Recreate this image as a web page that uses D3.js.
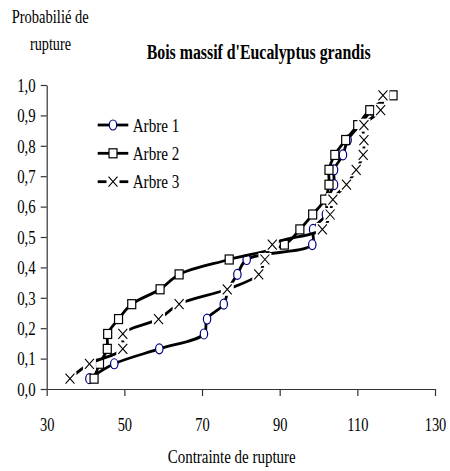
<!DOCTYPE html>
<html><head><meta charset="utf-8">
<script src="https://cdn.jsdelivr.net/npm/d3@7"></script>
<style>body{margin:0;background:#fff}svg{display:block}
svg text{font-family:"Liberation Serif","Times New Roman","DejaVu Serif",serif;}</style>
</head><body>
<script>
const xTicks = [30, 50, 70, 90, 110, 130];
const yTicks = [0, 0.1, 0.2, 0.3, 0.4, 0.5, 0.6, 0.7, 0.8, 0.9, 1.0];
const seriesNames = ["Arbre 1", "Arbre 2", "Arbre 3"];
const probs = [0.034, 0.083, 0.132, 0.181, 0.230, 0.279, 0.328, 0.377, 0.426, 0.475, 0.525, 0.574, 0.623, 0.672, 0.721, 0.770, 0.819, 0.868, 0.917, 0.966];
const arbre1 = [41.0, 47.4, 59.0, 70.5, 71.3, 75.6, 76.8, 79.1, 81.5, 98.4, 98.6, 101.9, 102.2, 104.0, 104.0, 106.3, 107.5, 110.6, 113.6];
const arbre2 = [42.2, 43.6, 45.6, 45.7, 48.5, 51.9, 59.2, 64.1, 77.0, 91.2, 95.2, 98.5, 101.6, 102.7, 102.7, 104.2, 107.0, 110.1, 113.2, 119.2];
const arbre3 = [36.0, 41.0, 49.6, 49.6, 58.8, 64.1, 76.5, 84.6, 86.2, 88.1, 101.0, 103.0, 103.7, 107.2, 109.7, 111.5, 111.7, 111.7, 116.0, 116.6];

const W = 450, H = 471;
const FS = 19, SQ = 0.78;
const svg = d3.select("body").append("svg").attr("width", W).attr("height", H);

const x = d3.scaleLinear().domain([30, 130]).range([46.7, 435]);
const y = d3.scaleLinear().domain([0, 1]).range([389, 85]);

function squeeze(sel, f) {
  sel.each(function () {
    const L = this.getComputedTextLength();
    d3.select(this).attr("textLength", L * f).attr("lengthAdjust", "spacingAndGlyphs");
  });
}
function txt(s, xx, yy, opts = {}) {
  const t = svg.append("text").attr("x", xx).attr("y", yy)
    .attr("font-size", opts.fs || FS)
    .attr("font-weight", opts.bold ? "bold" : "normal")
    .attr("text-anchor", opts.anchor || "start").attr("fill", "#000").text(s);
  if (opts.width) t.attr("textLength", opts.width).attr("lengthAdjust", "spacingAndGlyphs");
  else squeeze(t, SQ);
  return t;
}

// Axes
const fmt = d => d3.format(".1f")(d).replace(".", ",");
const yAxis = svg.append("g").attr("transform", `translate(${x(30)},0)`)
  .call(d3.axisLeft(y).tickValues(yTicks).tickSize(6).tickSizeOuter(0).tickPadding(5).tickFormat(fmt));
const xAxis = svg.append("g").attr("transform", `translate(0,${y(0)})`)
  .call(d3.axisBottom(x).tickValues(xTicks).tickSize(7).tickSizeOuter(0).tickFormat(d3.format("d")));
[yAxis, xAxis].forEach(g => {
  g.attr("font-family", null);
  g.selectAll("path.domain").attr("stroke", "#333").attr("stroke-width", 1.2);
  g.selectAll(".tick line").attr("stroke", "#333").attr("stroke-width", 1.2);
  g.selectAll(".tick text").attr("font-size", FS).attr("fill", "#000");
});
yAxis.selectAll(".tick text").attr("dy", "0.33em");
xAxis.selectAll(".tick text").attr("y", 0).attr("dy", 0).attr("transform", "translate(0,41.5)");
squeeze(yAxis.selectAll(".tick text"), SQ);
squeeze(xAxis.selectAll(".tick text"), 0.76);

// Titles
txt("Probabilié de", 11.7, 23, { width: 77 });
txt("rupture", 30, 50, { width: 41 });
txt("Bois massif d'Eucalyptus grandis", 146.7, 59, { bold: true, width: 224, fs: 20 });
txt("Contrainte de rupture", 167.7, 463, { width: 128 });

// Series
const line = d3.line().x(d => x(d[0])).y(d => y(d[1])).curve(d3.curveCatmullRom.alpha(0.5));
const data = [arbre1, arbre2, arbre3].map(arr => arr.map((v, i) => [v, probs[i]]));
const kinds = ["circle", "square", "x"];

function marker(g, kind, cx, cy) {
  if (kind === "circle") {
    g.append("ellipse").attr("cx", cx).attr("cy", cy).attr("rx", 3.7).attr("ry", 5)
      .attr("fill", "#fff").attr("stroke", "#000080").attr("stroke-width", 1.2);
  } else if (kind === "square") {
    g.append("rect").attr("x", cx - 4).attr("y", cy - 4.5).attr("width", 8).attr("height", 9)
      .attr("fill", "#fff").attr("stroke", "#000").attr("stroke-width", 1.2);
  } else {
    g.append("rect").attr("x", cx - 6.5).attr("y", cy - 6.5).attr("width", 13).attr("height", 13)
      .attr("fill", "#fff");
    g.append("path").attr("d", `M${cx - 4.5},${cy - 5}L${cx + 4.5},${cy + 5}M${cx - 4.5},${cy + 5}L${cx + 4.5},${cy - 5}`)
      .attr("stroke", "#000").attr("stroke-width", 1.1).attr("fill", "none");
  }
}

data.forEach((pts, si) => {
  const g = svg.append("g");
  g.append("path").attr("d", line(pts)).attr("fill", "none").attr("stroke", "#000").attr("stroke-width", 2.8);
  pts.forEach(p => marker(g, kinds[si], x(p[0]), y(p[1])));
});

// Legend
const legY = [125, 153.3, 181.7];
seriesNames.forEach((name, i) => {
  const g = svg.append("g");
  g.append("line").attr("x1", 97.7).attr("x2", 128.3).attr("y1", legY[i]).attr("y2", legY[i])
    .attr("stroke", "#000").attr("stroke-width", 2.8);
  marker(g, kinds[i], 113, legY[i]);
  txt(name, 132.7, legY[i] + 6.5, { width: 46.6 });
});
</script>
</body></html>
